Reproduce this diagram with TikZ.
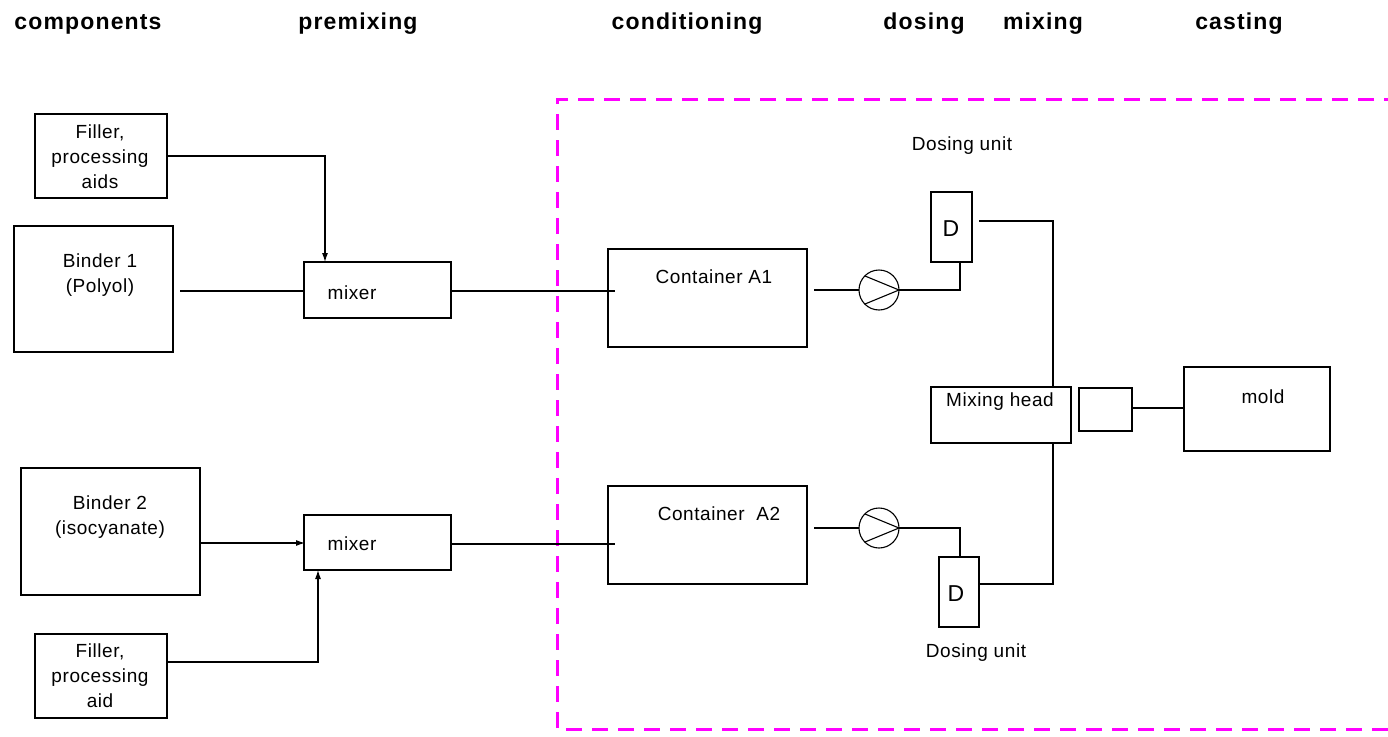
\documentclass[tikz,border=0pt]{standalone}
\usepackage{fontspec}
\setmainfont{Liberation Sans}
\newfontfamily\hdrfont[LetterSpace=5]{Liberation Sans}
\newfontfamily\bodyfont[LetterSpace=3]{Liberation Sans}
\usetikzlibrary{arrows.meta}
\definecolor{pinkline}{RGB}{255,0,255}
\begin{document}
\begin{tikzpicture}[x=1pt,y=-1pt,
  box/.style={draw,line width=1.1pt},
  ln/.style={line width=1.1pt},
  arr/.style={line width=1.1pt,-{Latex[length=9pt,width=6pt]}},
  txt/.style={font=\bodyfont\fontsize{19}{25}\selectfont,align=center,inner sep=0pt},
  hdr/.style={font=\hdrfont\fontsize{23}{24}\selectfont\bfseries,inner sep=0pt},
  dtxt/.style={font=\fontsize{23}{26}\selectfont,inner sep=0pt}]
\useasboundingbox (0,0) rectangle (1388,736);
% headers
\node[hdr] (h1) at (88,24) {components};
\node[hdr] (h2) at (358,24) {premixing};
\node[hdr] (h3) at (687,24) {conditioning};
\node[hdr] (h4) at (924,24) {dosing};
\node[hdr] (h5) at (1043,24) {mixing};
\node[hdr] (h6) at (1239,24) {casting};
% dashed region
\draw[pinkline,line width=3pt,dash pattern=on 16pt off 10pt] (1400,99) -- (557,99) -- (557,729) -- (1400,729);
% boxes
\draw[box] (35,114) rectangle (167,198);
\node[txt] (f1) at (100,157) {Filler,\\processing\\aids};
\draw[box] (14,226) rectangle (173,352);
\node[txt] (b1) at (100,275) {Binder 1\\(Polyol)};
\draw[box] (304,262) rectangle (451,318);
\node[txt] (m1) at (352,293) {mixer};
\draw[box] (21,468) rectangle (200,595);
\node[txt] (b2) at (110,517) {Binder 2\\(isocyanate)};
\draw[box] (304,515) rectangle (451,570);
\node[txt] (m2) at (352,544) {mixer};
\draw[box] (35,634) rectangle (167,718);
\node[txt] (f2) at (100,676) {Filler,\\processing\\aid};
\draw[box] (608,249) rectangle (807,347);
\node[txt] (ca1) at (714,277) {Container A1};
\draw[box] (608,486) rectangle (807,584);
\node[txt] (ca2) at (719,514) {Container\ \ A2};
\draw[box] (931,192) rectangle (972,262);
\node[dtxt] (d1) at (951,229) {D};
\draw[box] (939,557) rectangle (979,627);
\node[dtxt] (d2) at (956,594) {D};
\node[txt] (du1) at (962,146) {Dosing unit};
\node[txt] (du2) at (976,653) {Dosing unit};
\draw[box] (931,387) rectangle (1071,443);
\node[txt] (mh) at (1000,402) {Mixing head};
\draw[box] (1079,388) rectangle (1132,431);
\draw[box] (1184,367) rectangle (1330,451);
\node[txt] (mo) at (1263,397) {mold};
% pumps
\draw[ln] (879,290) circle (20);
\draw[ln] (865,276) -- (899,290) -- (865,304);
\draw[ln] (879,528) circle (20);
\draw[ln] (865,514) -- (899,528) -- (865,542);
% connectors
\draw[arr] (167,156) -- (325,156) -- (325,262);
\draw[ln] (180,291) -- (304,291);
\draw[ln] (451,291) -- (615,291);
\draw[arr] (200,543) -- (305,543);
\draw[arr] (167,662) -- (318,662) -- (318,570);
\draw[ln] (451,544) -- (615,544);
\draw[ln] (814,290) -- (859,290);
\draw[ln] (899,290) -- (960,290) -- (960,262);
\draw[ln] (979,221) -- (1053,221) -- (1053,387);
\draw[ln] (814,528) -- (859,528);
\draw[ln] (899,528) -- (960,528) -- (960,557);
\draw[ln] (979,584) -- (1053,584) -- (1053,443);
\draw[ln] (1132,408) -- (1184,408);
\end{tikzpicture}
\end{document}
